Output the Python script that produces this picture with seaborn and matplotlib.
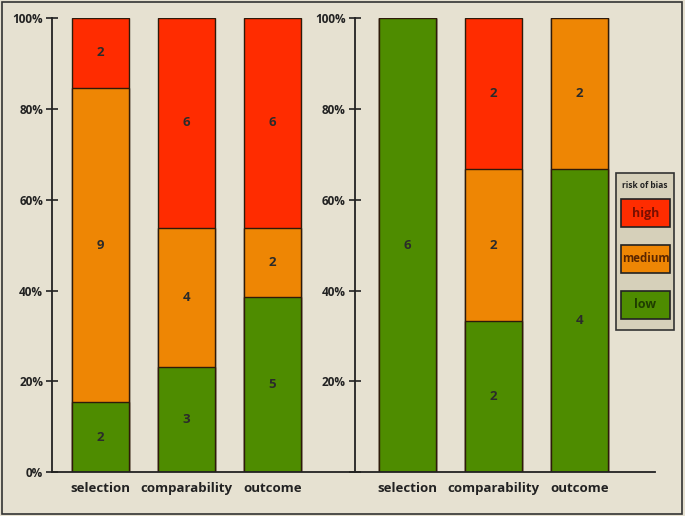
import seaborn as sns
import matplotlib.pyplot as plt
import matplotlib.patches as mpatches
import numpy as np
import pandas as pd

# counts per domain, two panels
categories = ["selection", "comparability", "outcome"]
left_low = [2, 3, 5]
left_medium = [9, 4, 2]
left_high = [2, 6, 6]
right_low = [6, 2, 4]
right_medium = [0, 2, 2]
right_high = [0, 2, 0]

levels = ["low", "medium", "high"]
colors = {"low": "#4e8c00", "medium": "#ee8604", "high": "#ff2c00"}
text_colors = {"low": "#1f3d00", "medium": "#5a2600", "high": "#7a0f00"}
bg = "#e6e1d1"
edge = "#2e1a0a"

sns.set_theme(style="white")
plt.rcParams["font.family"] = ["Open Sans", "DejaVu Sans"]

fig = plt.figure(figsize=(6.85, 5.16), dpi=100)
fig.patch.set_facecolor(bg)
fig.patches.append(mpatches.Rectangle((0.003, 0.003), 0.992, 0.994, transform=fig.transFigure,
                                      fill=False, edgecolor="#333333", lw=1.2))

ax1 = fig.add_axes([0.076, 0.085, 0.442, 0.880])
ax2 = fig.add_axes([0.518, 0.085, 0.438, 0.880])


def draw_panel(ax, low, medium, high, xlim, show_zero):
    df = pd.DataFrame({"cat": categories, "low": low, "medium": medium, "high": high})
    total = df[levels].sum(axis=1)
    pct = df[levels].div(total, axis=0) * 100
    cum = pct.cumsum(axis=1)
    # draw tallest cumulative first so lower segments sit on top
    for lev in ["high", "medium", "low"]:
        sns.barplot(x=df["cat"], y=cum[lev], color=colors[lev], width=0.66,
                    edgecolor=edge, linewidth=1.0, saturation=1, ax=ax, errorbar=None)
    for i in range(len(df)):
        base = 0
        for lev in levels:
            h = pct.loc[i, lev]
            if df.loc[i, lev] > 0:
                ax.text(i, base + h / 2, str(df.loc[i, lev]), ha="center", va="center",
                        fontsize=9.5, fontweight="bold", color="#2b2b2b")
            base += h
    ax.set_xlim(*xlim)
    ax.set_ylim(0, 100)
    ax.set_facecolor(bg)
    ax.set_xlabel("")
    ax.set_ylabel("")
    ticks = [0, 20, 40, 60, 80, 100]
    ax.set_yticks(ticks)
    ax.set_yticklabels([f"{t}%" if (t > 0 or show_zero) else "" for t in ticks],
                       fontsize=8.5, fontweight="bold", color="#222222")
    ax.tick_params(axis="y", direction="inout", length=9, width=1.2, color="#222222", left=True, pad=2)
    ax.tick_params(axis="x", length=0, pad=7)
    for lab in ax.get_xticklabels():
        lab.set_fontsize(9.5)
        lab.set_fontweight("bold")
        lab.set_color("#222222")
    for s in ["top", "right"]:
        ax.spines[s].set_visible(False)
    for s in ["left", "bottom"]:
        ax.spines[s].set_color("#222222")
        ax.spines[s].set_linewidth(1.3)


draw_panel(ax1, left_low, left_medium, left_high, (-0.564, 2.96), True)
draw_panel(ax2, right_low, right_medium, right_high, (-0.61, 2.88), False)

# legend box
fig.patches.append(mpatches.Rectangle((616 / 685, 1 - 330 / 516), 58 / 685, 157 / 516,
                                      transform=fig.transFigure, facecolor="#d6d0ba",
                                      edgecolor="#333333", lw=1.2))
fig.text(645 / 685, 1 - 185 / 516, "risk of bias", ha="center", va="center",
         fontsize=6, fontweight="bold", color="#222222")
for lev, yc in [("high", 213), ("medium", 259), ("low", 305)]:
    fig.patches.append(mpatches.Rectangle((621 / 685, 1 - (yc + 14) / 516), 49 / 685, 28 / 516,
                                          transform=fig.transFigure, facecolor=colors[lev],
                                          edgecolor="#222222", lw=1.2))
    fig.text(645.5 / 685, 1 - yc / 516, lev, ha="center", va="center",
             fontsize=8.3 if lev == "medium" else 9,
             fontweight="bold", color=text_colors[lev])

fig.savefig("out.png", dpi=100, facecolor=bg)
